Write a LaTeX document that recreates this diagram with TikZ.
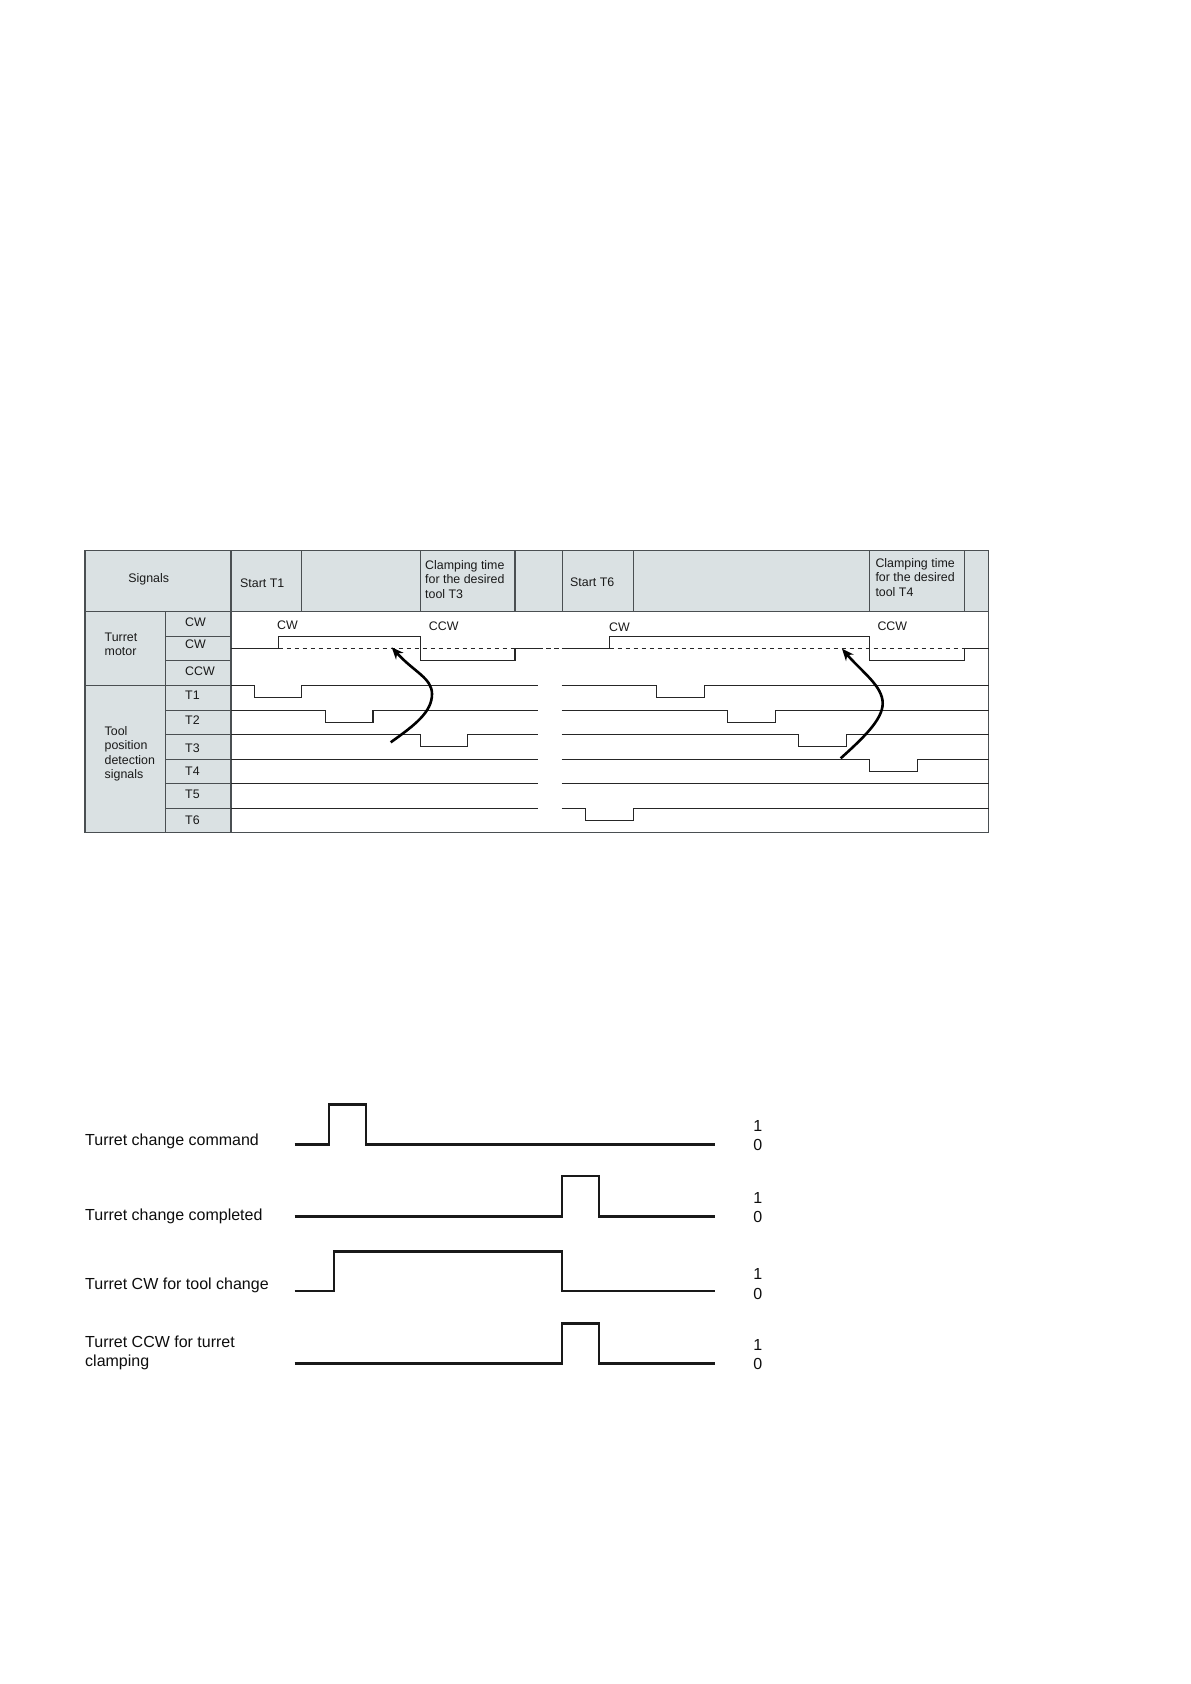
\documentclass[tikz,border=0pt]{standalone}
\usepackage{fontspec}
\setmainfont{Liberation Sans}
\usetikzlibrary{arrows.meta}
\definecolor{headgray}{HTML}{DAE1E3}
\definecolor{gridgray}{HTML}{4A4F52}
\tikzset{
	tablabel/.style={anchor=west, inner sep=0pt, align=left, text=black!90, font=\fontsize{12.4}{14.4}\selectfont},
	sidelabel/.style={anchor=west, inner sep=0pt, align=left, text=black!95, font=\fontsize{16}{19.5}\selectfont},
	gridline/.style={draw=gridgray, line width=1.5pt},
	trace/.style={draw=black!85, line width=1.5pt},
	bigtrace/.style={draw=black!90, line width=2.2pt, line join=miter},
	bendarrow/.style={draw=black, line width=2.6pt, -{Stealth[length=12pt,width=10pt]}},
	dashtrace/.style={trace, dash pattern=on 4.5pt off 3.5pt},
}
\begin{document}
\begin{tikzpicture}[x=1pt,y=-1pt]
	\useasboundingbox (0,0) rectangle (1191,1684);
	\fill[headgray] (85,550.5) rectangle (988.5,611.5);
	\fill[headgray] (85,611.5) rectangle (231,832.5);
	\draw[gridline] (85,550.5) rectangle (988.5,832.5);
	\draw[gridline] (85,611.5) -- (988.5,611.5);
	\foreach \x in {231,301.5,420.5,515,562.5,633.5,869.5,964.5}
	\draw[gridline] (\x,550.5) -- (\x,611.5);
	\draw[gridline] (165.5,611.5) -- (165.5,832.5);
	\draw[gridline] (231,611.5) -- (231,832.5);
	\foreach \y in {636.5,660.5,710.5,734.5,759.5,783.5,808.5}
	\draw[gridline] (165.5,\y) -- (231,\y);
	\draw[gridline] (85,685.5) -- (231,685.5);
	% header
	\node[tablabel, anchor=center] (signals) at (148.7,578.8) {Signals};
	\node[tablabel] (startone) at (240,583.3) {Start T1};
	\node[tablabel] (clampthree) at (425,579.5) {Clamping time\\for the desired\\tool T3};
	\node[tablabel] (startsix) at (570,582.3) {Start T6};
	\node[tablabel] (clampfour) at (875.3,577.5) {Clamping time\\for the desired\\tool T4};
	% row names
	\node[tablabel] (motor) at (104.5,644) {Turret\\motor};
	\node[tablabel] (tool) at (104.5,753.8) {Tool\\position\\detection\\signals};
	\foreach \name/\txt/\y in {rowcw/CW/622.7,rowcwb/CW/644.5,rowccw/CCW/671.7,rowa/T1/695.5,rowb/T2/720.2,rowc/T3/747.8,rowd/T4/771.5,rowe/T5/794.5,rowf/T6/820.2}
	\node[tablabel] (\name) at (185,\y) {\txt};
	% motor trace
	\node[tablabel] (cwa) at (277,625.7) {CW};
	\node[tablabel] (ccwa) at (428.7,626) {CCW};
	\node[tablabel] (cwb) at (609,627.5) {CW};
	\node[tablabel] (ccwb) at (877.3,626) {CCW};
	\draw[trace] (231,648.5) -- (278.5,648.5) -- (278.5,636.5) -- (420.5,636.5) -- (420.5,660.5) -- (515,660.5) -- (515,648.5) -- (538,648.5);
	\draw[trace] (561.7,648.5) -- (609.5,648.5) -- (609.5,636.5) -- (869.5,636.5) -- (869.5,660.5) -- (964.5,660.5) -- (964.5,648.5) -- (988.5,648.5);
	\draw[dashtrace] (278.5,648.5) -- (515,648.5);
	\draw[dashtrace] (538,648.5) -- (561.7,648.5);
	\draw[dashtrace] (609.5,648.5) -- (964.5,648.5);
	% tool position traces, left part
	\draw[trace] (231,685.5) -- (254.5,685.5) -- (254.5,697.5) -- (301.5,697.5) -- (301.5,685.5) -- (538,685.5);
	\draw[trace] (231,710.5) -- (325.5,710.5) -- (325.5,722.5) -- (373,722.5) -- (373,710.5) -- (538,710.5);
	\draw[trace] (231,734.5) -- (420.5,734.5) -- (420.5,746.5) -- (467.5,746.5) -- (467.5,734.5) -- (538,734.5);
	\draw[trace] (231,759.5) -- (538,759.5);
	\draw[trace] (231,783.5) -- (538,783.5);
	\draw[trace] (231,808.5) -- (538,808.5);
	% tool position traces, right part
	\draw[trace] (561.7,685.5) -- (656.5,685.5) -- (656.5,697.5) -- (704.5,697.5) -- (704.5,685.5) -- (988.5,685.5);
	\draw[trace] (561.7,710.5) -- (727.5,710.5) -- (727.5,722.5) -- (775.5,722.5) -- (775.5,710.5) -- (988.5,710.5);
	\draw[trace] (561.7,734.5) -- (798.5,734.5) -- (798.5,746.5) -- (846.5,746.5) -- (846.5,734.5) -- (988.5,734.5);
	\draw[trace] (561.7,759.5) -- (869.5,759.5) -- (869.5,771.5) -- (917.5,771.5) -- (917.5,759.5) -- (988.5,759.5);
	\draw[trace] (561.7,783.5) -- (988.5,783.5);
	\draw[trace] (561.7,808.5) -- (585.5,808.5) -- (585.5,820.5) -- (633.5,820.5) -- (633.5,808.5) -- (988.5,808.5);
	% curved arrows
	\coordinate (tailone) at (390.7,742.3);
	\coordinate (bendone) at (432,694);
	\coordinate (tipone) at (391.7,647.3);
	\coordinate (tailtwo) at (840.7,758.3);
	\coordinate (bendtwo) at (882.7,703.3);
	\coordinate (tiptwo) at (842,648.7);
	\draw[bendarrow] (tailone) .. controls (415,725) and (432,712) .. (bendone) .. controls (432,678) and (414,672) .. (tipone);
	\draw[bendarrow] (tailtwo) .. controls (862,739) and (882.7,720) .. (bendtwo) .. controls (882.7,686) and (862,672) .. (tiptwo);
	% lower diagram
	\node[sidelabel] (change) at (85,1141.7) {Turret change command};
	\node[sidelabel] (done) at (85,1216.5) {Turret change completed};
	\node[sidelabel] (cwtool) at (85,1285.7) {Turret CW for tool change};
	\node[sidelabel] (ccwtool) at (85,1353) {Turret CCW for turret\\clamping};
	\draw[bigtrace] (294.7,1144.5) -- (328.7,1144.5) -- (328.7,1104.5) -- (365.7,1104.5) -- (365.7,1144.5) -- (715.3,1144.5);
	\draw[bigtrace] (294.7,1216.5) -- (562,1216.5) -- (562,1176) -- (599.3,1176) -- (599.3,1216.5) -- (715.3,1216.5);
	\draw[bigtrace] (294.7,1291) -- (333.7,1291) -- (333.7,1251.5) -- (562,1251.5) -- (562,1291) -- (715.3,1291);
	\draw[bigtrace] (294.7,1363.5) -- (562,1363.5) -- (562,1323.5) -- (599.3,1323.5) -- (599.3,1363.5) -- (715.3,1363.5);
	\foreach \name/\y in {a/1125.7,b/1198,c/1274.3,d/1345.3}
	\node[sidelabel, anchor=center] (one\name) at (757.7,\y) {1};
	\foreach \name/\y in {a/1144.7,b/1217,c/1293.8,d/1364.3}
	\node[sidelabel, anchor=center] (zero\name) at (757.7,\y) {0};
\end{tikzpicture}
\end{document}
